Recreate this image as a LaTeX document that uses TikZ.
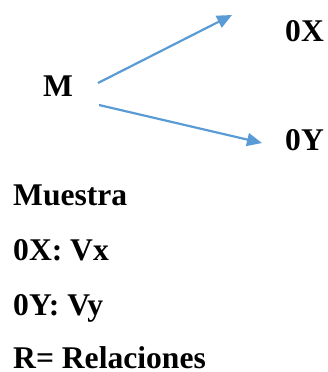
\documentclass[tikz,border=0pt]{standalone}
\usepackage{fontspec}
\setmainfont{Liberation Serif}
\usetikzlibrary{arrows.meta, positioning}
\definecolor{msArrow}{HTML}{5B9BD5}
\tikzset{
  mslabel/.style={font=\fontsize{31.6}{36}\selectfont\bfseries, inner sep=0pt, anchor=base west},
  msarrow/.style={-{Triangle[length=15pt, width=13pt]}, line width=2.2pt, msArrow}
}
\begin{document}
\begin{tikzpicture}[x=1pt, y=-1pt]
  \useasboundingbox (0,0) rectangle (328,372);
  % diagram
  \node[mslabel] (m) at (43,96) {M};
  \node[mslabel] (ox) at (285,41) {0X};
  \node[mslabel] (oy) at (285,150) {0Y};
  \coordinate (mup) at (98,83);
  \coordinate (mdown) at (99,105);
  \coordinate (oxtip) at (232,15);
  \coordinate (oytip) at (262,143);
  \draw[msarrow] (mup) -- (oxtip);
  \draw[msarrow] (mdown) -- (oytip);
  % legend
  \node[mslabel] (muestra) at (13,205) {Muestra};
  \node[mslabel] (vx) at (13,260) {0X: Vx};
  \node[mslabel] (vy) at (13,315) {0Y: Vy};
  \node[mslabel] (rel) at (13,368) {R= Relaciones};
\end{tikzpicture}
\end{document}
